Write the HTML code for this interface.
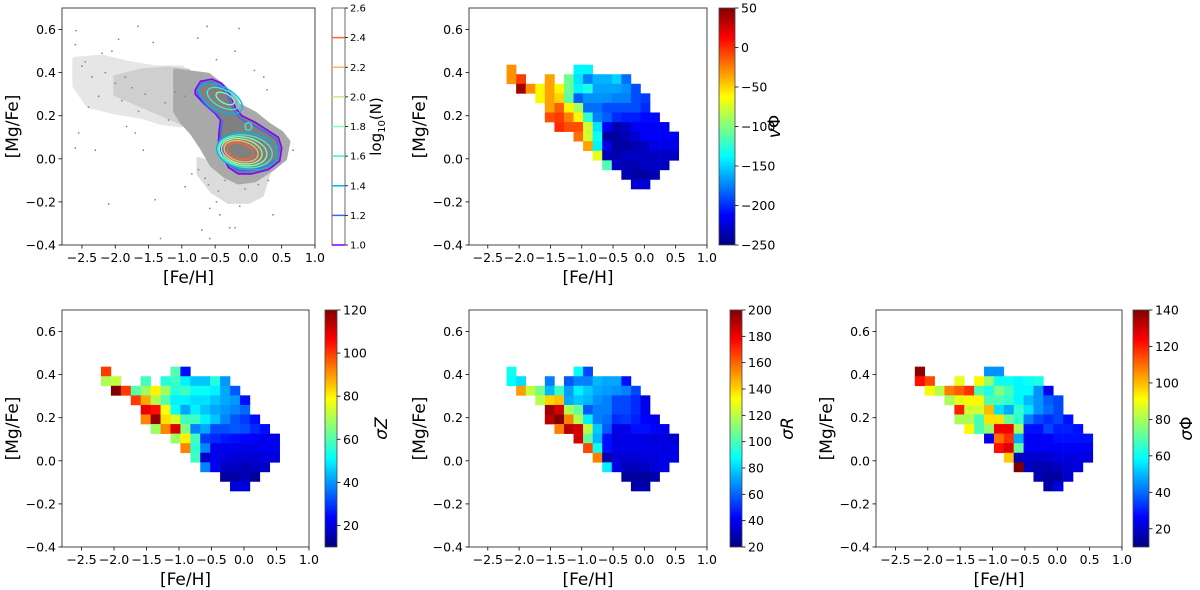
<!DOCTYPE html>
<html><head><meta charset="utf-8">
<style>
html,body{margin:0;padding:0;background:#fff;}
svg{display:block;font-family:"DejaVu Sans","Liberation Sans",sans-serif;}
</style></head>
<body>
<svg id="fig" width="1200" height="590" viewBox="0 0 1200 590" xmlns="http://www.w3.org/2000/svg"></svg>
<script>
// ---------- data ----------
const xTicks = [-2.5,-2.0,-1.5,-1.0,-0.5,0.0,0.5,1.0];
const yTicks = [-0.4,-0.2,0.0,0.2,0.4,0.6];
const binX0 = -2.2, binDX = 0.1527, binYTop = 0.437, binDY = 0.0444;

const vphiRows = [
 [0,[-30,null,null,null,null,null,null,-140,-140]],
 [0,[-30,-5,null,null,-35,null,-105,-145,-175,-160,-160,-150,-180]],
 [1,[40,-30,-60,-35,-60,-105,-140,-130,-165,-165,-165,-170,-190]],
 [3,[-60,-35,-50,-110,-185,-170,-170,-170,-175,-175,-190,-195]],
 [4,[-35,-15,-60,-90,-180,-180,-190,-190,-190,-190,-200]],
 [4,[-10,-5,-25,-60,-125,-175,-185,-200,-205,-205,-210,-210]],
 [5,[0,-10,-10,-75,-145,-215,-235,-230,-215,-215,-215,-215]],
 [7,[-20,-75,-135,-240,-240,-235,-225,-215,-215,-215,-215]],
 [8,[-35,-140,-220,-240,-240,-235,-230,-220,-220,-220]],
 [9,[-70,-235,-235,-230,-230,-230,-230,-230,-230]],
 [10,[-115,-230,-235,-235,-230,-230,-230]],
 [12,[-235,-240,-240,-235]],
 [13,[-225,-225]]
];
const sigZRows = [
 [0,[100,null,null,null,null,null,null,60,25]],
 [0,[70,72,null,null,58,null,55,58,50,45,45,55,40]],
 [1,[120,100,60,68,80,68,55,58,52,52,50,42,33]],
 [3,[100,88,70,60,50,50,48,48,45,42,40,25]],
 [4,[108,105,78,52,42,50,45,42,40,38,35]],
 [4,[92,118,82,75,58,58,50,45,38,33,30,25]],
 [5,[68,92,110,65,38,42,32,32,33,32,28,25]],
 [7,[68,80,58,30,28,26,25,24,23,22,22]],
 [8,[92,56,38,22,22,22,21,21,22,22]],
 [9,[58,18,22,20,19,19,19,20,20]],
 [10,[38,22,17,17,16,17,18]],
 [12,[14,14,16,13]],
 [13,[20,20]]
];
const sigRRows = [
 [0,[90,null,null,null,null,null,null,88,55]],
 [0,[88,82,null,null,65,null,58,65,65,75,72,72,45]],
 [1,[150,122,108,75,98,70,85,78,72,70,68,65,55]],
 [3,[120,140,143,72,78,75,68,65,55,55,50,38]],
 [4,[195,185,118,105,58,65,65,55,55,50,40]],
 [4,[190,200,155,118,85,65,62,50,52,48,42,40]],
 [5,[155,190,185,120,78,58,38,38,45,45,42,40]],
 [7,[185,105,75,45,38,38,38,38,36,36,35]],
 [8,[165,90,45,38,38,38,38,38,38,38]],
 [9,[155,28,35,35,35,36,36,38,38]],
 [10,[85,38,30,30,32,36,38]],
 [12,[25,25,25,28]],
 [13,[28,28]]
];
const sigPhiRows = [
 [0,[138,null,null,null,null,null,null,45,45]],
 [0,[122,115,null,null,88,null,92,78,60,60,58,60,62]],
 [1,[90,82,108,112,118,68,62,75,68,58,58,45,25]],
 [3,[80,88,92,92,68,68,65,58,50,45,38,35]],
 [4,[120,85,85,100,55,48,65,55,45,40,35]],
 [4,[80,80,68,95,95,72,65,42,35,32,35,28]],
 [5,[92,68,78,125,125,80,28,28,35,30,30,28]],
 [7,[25,110,118,48,25,25,26,28,28,28,28]],
 [8,[122,128,72,25,25,25,25,25,25,25]],
 [9,[98,18,20,20,20,22,22,22,22]],
 [10,[140,18,16,16,18,20,22]],
 [12,[17,14,14,20]],
 [13,[15,22]]
];
const vphiTicks = [50,0,-50,-100,-150,-200,-250];
const sigZTicks = [20,40,60,80,100,120];
const sigRTicks = [20,40,60,80,100,120,140,160,180,200];
const sigPhiTicks = [20,40,60,80,100,120,140];
const logNTicks = [1.0,1.2,1.4,1.6,1.8,2.0,2.2,2.4,2.6];

// panel 1 scatter (sparse outliers) [Fe/H], [Mg/Fe]
const scatFe = [-2.59,-1.66,-0.62,-0.14,-0.76,-1.43,-1.95,-2.6,-2.6,-2.1,-2.3,-1.4,-1.32,-0.58,-0.7,-0.58,-0.28,-0.2,0.37,0.67,0.23,0.09,-0.2,-0.48,-2.55,-2.4,-2.25,-2.5,-2.2,-2.05,-1.85,-1.7,-1.58,-1.83,-0.95,-0.85,-0.48,-0.13,-0.43,-0.95,0.28,-2.45,-2.35,-2.15,-1.9,-1.75,-1.55,-1.25,-1.1,-2.0,-1.65,-1.2,-0.6,-0.45,-0.35,-0.05,0.15,0.3,-0.75,-0.65];
const scatMg = [0.595,0.615,0.615,0.605,0.56,0.54,0.555,0.53,0.05,-0.21,0.04,-0.19,-0.37,-0.23,-0.33,-0.37,-0.32,-0.32,-0.26,0.04,0.38,0.41,0.5,0.46,0.12,0.24,0.29,0.43,0.49,0.5,0.38,0.12,0.04,0.15,-0.13,-0.07,-0.2,-0.22,-0.26,0.29,0.32,0.45,0.38,0.4,0.27,0.33,0.3,0.26,0.31,0.35,0.22,0.18,-0.12,-0.15,-0.1,-0.14,-0.12,-0.1,-0.05,-0.09];
// density regions (data coords)
const sparseFe = [-2.6,-2.2,-1.8,-1.4,-1.0,-0.9,-1.0,-1.3,-1.6,-2.0,-2.4,-2.6];
const sparseMg = [0.46,0.47,0.44,0.42,0.42,0.2,0.16,0.17,0.2,0.22,0.25,0.34];
const midFe = [-2.0,-1.6,-1.2,-0.9,-0.9,-1.1,-1.4,-1.7,-2.0];
const midMg = [0.38,0.41,0.42,0.41,0.15,0.18,0.22,0.26,0.3];
const denseFe = [-1.1,-0.85,-0.6,-0.35,-0.15,0.1,0.3,0.5,0.6,0.55,0.35,0.1,-0.15,-0.35,-0.55,-0.7,-0.85,-1.0,-1.1];
const denseMg = [0.41,0.4,0.39,0.33,0.25,0.21,0.16,0.12,0.08,0.0,-0.05,-0.1,-0.11,-0.08,-0.03,0.05,0.12,0.17,0.22];
const tailFe = [-0.75,-0.4,-0.1,0.15,0.3,0.2,0.0,-0.3,-0.55,-0.75];
const tailMg = [0.0,-0.04,-0.08,-0.09,-0.07,-0.17,-0.2,-0.2,-0.15,-0.07];
// outer contours
const c10Fe = [-0.8,-0.72,-0.55,-0.4,-0.28,-0.2,-0.1,0.1,0.3,0.45,0.5,0.47,0.3,0.05,-0.15,-0.3,-0.4,-0.45,-0.44,-0.42,-0.5,-0.65,-0.8];
const c10Mg = [0.32,0.36,0.37,0.35,0.3,0.24,0.2,0.17,0.13,0.1,0.05,-0.01,-0.05,-0.07,-0.07,-0.04,0.02,0.08,0.13,0.18,0.21,0.25,0.3];
const c12Fe = [-0.76,-0.7,-0.55,-0.42,-0.31,-0.23,-0.12,0.08,0.28,0.42,0.46,0.43,0.28,0.05,-0.14,-0.28,-0.37,-0.42,-0.41,-0.39,-0.48,-0.63,-0.76];
const c12Mg = [0.32,0.35,0.355,0.335,0.29,0.23,0.185,0.155,0.12,0.09,0.05,0.0,-0.035,-0.055,-0.055,-0.03,0.025,0.08,0.13,0.175,0.21,0.245,0.3];
// inner contours as ellipses: level, centre, radii, tilt(deg)
const ellLevel = [1.4,1.6,1.8,1.6,1.4,1.6,1.8,2.0,2.2,2.4];
const ellFe =    [-0.42,-0.38,-0.35,0.0,-0.02,-0.05,-0.08,-0.1,-0.11,-0.12];
const ellMg =    [0.28,0.28,0.28,0.15,0.035,0.035,0.035,0.035,0.035,0.035];
const ellRx =    [0.36,0.26,0.15,0.05,0.46,0.41,0.36,0.31,0.26,0.2];
const ellRy =    [0.055,0.04,0.022,0.018,0.085,0.075,0.066,0.057,0.047,0.035];
const ellRot =   [28,28,28,0,8,8,10,12,14,16];

// ---------- helpers ----------
const NS = "http://www.w3.org/2000/svg";
const fig = document.getElementById('fig');
function mk(tag, attrs, parent){ const e=document.createElementNS(NS,tag); for(const k in attrs) e.setAttribute(k,attrs[k]); (parent||fig).appendChild(e); return e; }
function jet(t){ t=Math.max(0,Math.min(1,t)); const c=v=>Math.round(255*Math.max(0,Math.min(1,v)));
  return `rgb(${c(1.5-Math.abs(4*t-3))},${c(1.5-Math.abs(4*t-2))},${c(1.5-Math.abs(4*t-1))})`; }
function rainbow(t){ // matplotlib rainbow (gnuplot 33,13,10)
  const r=Math.abs(2*t-0.5), g=Math.sin(Math.PI*t), b=Math.cos(Math.PI*t/2);
  const c=v=>Math.round(255*Math.max(0,Math.min(1,v))); return `rgb(${c(r)},${c(g)},${c(b)})`; }
function fmt(v,d){ return v.toFixed(d).replace('-','\u2212'); }

function makeAxes(P){
  const sx = v => P.L + (v-(-2.8))/(1.0-(-2.8))*(P.R-P.L);
  const sy = v => P.B - (v-(-0.4))/(0.7-(-0.4))*(P.B-P.T);
  const g = mk('g',{});
  
  
  P.sx=sx; P.sy=sy; P.g=g; return P;
}
function drawFrame(P){
  const g=P.g;
  const fr = mk('rect',{x:P.L,y:P.T,width:P.R-P.L,height:P.B-P.T,fill:'none',stroke:'#444','stroke-width':1},g);
   
  xTicks.forEach(v=>{ const x=P.sx(v);
    mk('line',{x1:x,x2:x,y1:P.B,y2:P.B+3.5,stroke:'#000','stroke-width':0.8},g);
    const t=mk('text',{x:x,y:P.B+17,'font-size':12.5,'text-anchor':'middle',fill:'#000'},g); t.textContent=fmt(v,1);
     
  });
  yTicks.forEach(v=>{ const y=P.sy(v);
    mk('line',{x1:P.L-3.5,x2:P.L,y1:y,y2:y,stroke:'#000','stroke-width':0.8},g);
    const t=mk('text',{x:P.L-6,y:y+4.5,'font-size':12.5,'text-anchor':'end',fill:'#000'},g); t.textContent=fmt(v,1);
     
  });
  const xl=mk('text',{x:(P.L+P.R)/2,y:P.B+38,'font-size':17,'text-anchor':'middle',fill:'#000'},g); xl.textContent='[Fe/H]';
   
  const yx=P.L-44, yy=(P.T+P.B)/2;
  const yl=mk('text',{x:yx,y:yy,'font-size':17,'text-anchor':'middle',fill:'#000',transform:`rotate(-90 ${yx} ${yy})`},g); yl.textContent='[Mg/Fe]';
   
}
function drawCells(P, rows, vmin, vmax){
  rows.forEach((row,r)=>{
    const start=row[0];
    row[1].forEach((v,i)=>{
      if(v===null) return;
      const k=start+i;
      const x0=P.sx(binX0+k*binDX), x1=P.sx(binX0+(k+1)*binDX);
      const y0=P.sy(binYTop-r*binDY), y1=P.sy(binYTop-(r+1)*binDY);
      const c=mk('rect',{x:x0,y:y0,width:x1-x0+0.3,height:y1-y0+0.3,fill:jet((v-vmin)/(vmax-vmin))},P.g);
      
      
    });
  });
}
let gid=0;
function drawColorbar(C){
  const id='grad'+(gid++);
  const defs=mk('defs',{});
  const lg=mk('linearGradient',{id:id,x1:0,y1:1,x2:0,y2:0},defs);
  for(let i=0;i<=16;i++){ mk('stop',{offset:i/16,'stop-color':jet(i/16)},lg); }
  const g=mk('g',{});
  
  
  mk('rect',{x:C.L,y:C.T,width:C.R-C.L,height:C.B-C.T,fill:`url(#${id})`,stroke:'#444','stroke-width':0.8},g);
  const sy=v=>C.B-(v-C.vmin)/(C.vmax-C.vmin)*(C.B-C.T);
  C.ticks.forEach(v=>{ const y=sy(v);
    mk('line',{x1:C.R,x2:C.R+3.5,y1:y,y2:y,stroke:'#000','stroke-width':0.8},g);
    const t=mk('text',{x:C.R+6,y:y+4.5,'font-size':12.5,fill:'#000'},g); t.textContent=fmt(v,0);
     
  });
  const lx=C.lx, ly=(C.T+C.B)/2;
  const lab=mk('text',{x:lx,y:ly,'font-size':17,'text-anchor':'middle',fill:'#000',transform:`rotate(-90 ${lx} ${ly})`},g);
  lab.innerHTML=C.label;
   
}

// ---------- panel 1 ----------
const P1 = makeAxes({name:'density-panel',L:62,R:315,T:8,B:245});
function poly(P,xs,ys,attrs,name){ const pts=xs.map((x,i)=>P.sx(x)+','+P.sy(ys[i])).join(' ');
  const e=mk('polygon',Object.assign({points:pts,'stroke-linejoin':'round'},attrs),P.g);   return e; }
poly(P1,sparseFe,sparseMg,{fill:'#e6e6e6',stroke:'#e6e6e6','stroke-width':6},'sparse-star-region');
poly(P1,midFe,midMg,{fill:'#cfcfcf',stroke:'#cfcfcf','stroke-width':4},'medium-star-region');
poly(P1,tailFe,tailMg,{fill:'#dcdcdc',stroke:'#dcdcdc','stroke-width':4},'low-alpha-tail-region');
poly(P1,denseFe,denseMg,{fill:'#a9a9a9',stroke:'#a9a9a9','stroke-width':4},'dense-star-region');
poly(P1,c10Fe,c10Mg,{fill:'#808080',stroke:'none'},'contour-core');
scatFe.forEach((x,i)=>{ const d=mk('circle',{cx:P1.sx(x),cy:P1.sy(scatMg[i]),r:0.9,fill:'#888'},P1.g);
    });
const lvl=v=>rainbow((v-1.0)/1.6);
poly(P1,c10Fe,c10Mg,{fill:'none',stroke:lvl(1.0),'stroke-width':1.6},'contour-1.0');
poly(P1,c12Fe,c12Mg,{fill:'none',stroke:lvl(1.2),'stroke-width':1.3},'contour-1.2');
ellLevel.forEach((L,i)=>{
  const cx=P1.sx(ellFe[i]), cy=P1.sy(ellMg[i]);
  const rx=P1.sx(ellRx[i])-P1.sx(0), ry=P1.sy(0)-P1.sy(ellRy[i]);
  const e=mk('ellipse',{cx:cx,cy:cy,rx:rx,ry:ry,fill:'none',stroke:lvl(L),'stroke-width':1.3,transform:`rotate(${ellRot[i]} ${cx} ${cy})`},P1.g);
   
});
drawFrame(P1);
// log N colorbar
(function(){
  const C={L:332,R:345,T:8,B:245,vmin:1.0,vmax:2.6};
  const g=mk('g',{});
  
  
  mk('rect',{x:C.L,y:C.T,width:C.R-C.L,height:C.B-C.T,fill:'#fff',stroke:'#444','stroke-width':0.8},g);
  const sy=v=>C.B-(v-C.vmin)/(C.vmax-C.vmin)*(C.B-C.T);
  logNTicks.forEach(v=>{ const y=sy(v);
    if(v<2.6) mk('line',{x1:C.L,x2:C.R,y1:y,y2:y,stroke:lvl(v),'stroke-width':1.5},g);
    mk('line',{x1:C.R,x2:C.R+3,y1:y,y2:y,stroke:'#000','stroke-width':0.8},g);
    const t=mk('text',{x:C.R+5,y:y+3.5,'font-size':10,fill:'#000'},g); t.textContent=v.toFixed(1);
     
  });
  const lx=381, ly=(C.T+C.B)/2;
  const lab=mk('text',{x:lx,y:ly,'font-size':15,'text-anchor':'middle',fill:'#000',transform:`rotate(-90 ${lx} ${ly})`},g);
  lab.innerHTML='log<tspan font-size="10" dy="4">10</tspan><tspan dy="-4">(N)</tspan>';
   
})();

// ---------- panel 2 ----------
const P2=makeAxes({name:'vphi-panel',L:469,R:707,T:8,B:245});
drawCells(P2,vphiRows,-250,50); drawFrame(P2);
drawColorbar({name:'vphi-colorbar',L:719,R:735,T:8,B:245,vmin:-250,vmax:50,ticks:vphiTicks,lx:780,label:'<tspan font-style="italic">v</tspan>Φ'});

// ---------- panel 3 ----------
const P3=makeAxes({name:'sigmaz-panel',L:62,R:309,T:310,B:547});
drawCells(P3,sigZRows,10,120); drawFrame(P3);
drawColorbar({name:'sigmaz-colorbar',L:325,R:337,T:310,B:547,vmin:10,vmax:120,ticks:sigZTicks,lx:387,label:'<tspan font-style="italic">σZ</tspan>'});

// ---------- panel 4 ----------
const P4=makeAxes({name:'sigmar-panel',L:469,R:707,T:310,B:547});
drawCells(P4,sigRRows,20,200); drawFrame(P4);
drawColorbar({name:'sigmar-colorbar',L:730,R:742,T:310,B:547,vmin:20,vmax:200,ticks:sigRTicks,lx:793,label:'<tspan font-style="italic">σR</tspan>'});

// ---------- panel 5 ----------
const P5=makeAxes({name:'sigmaphi-panel',L:876,R:1122,T:310,B:547});
drawCells(P5,sigPhiRows,10,140); drawFrame(P5);
drawColorbar({name:'sigmaphi-colorbar',L:1133,R:1149,T:310,B:547,vmin:10,vmax:140,ticks:sigPhiTicks,lx:1192,label:'<tspan font-style="italic">σ</tspan>Φ'});
</script>
</body></html>
